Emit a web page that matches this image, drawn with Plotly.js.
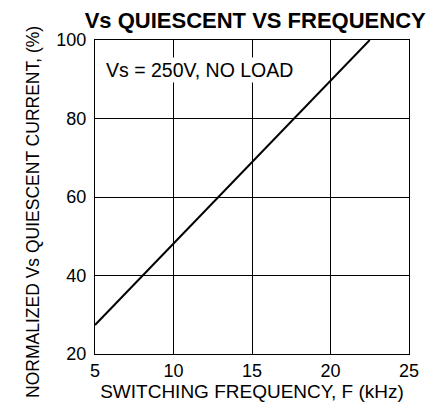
<!DOCTYPE html>
<html>
<head>
<meta charset="utf-8">
<script src="https://cdn.plot.ly/plotly-3.0.1.min.js"></script>
<style>html,body{margin:0;padding:0;background:#fff;}#chart{width:440px;height:405px;}</style>
</head>
<body>
<div id="chart"></div>
<script>
const frequency = [5, 10, 15, 20, 22.5];
const current = [27.4, 48.2, 69.0, 89.7, 100];
const xTicks = [5, 10, 15, 20, 25];
const yTicks = [20, 40, 60, 80, 100];

const FONT = 'Liberation Sans, Arial, sans-serif';

Plotly.newPlot('chart', [{
  x: frequency,
  y: current,
  mode: 'lines',
  line: {color: '#000', width: 2},
  hoverinfo: 'skip'
}], {
  width: 440, height: 405,
  margin: {l: 95, r: 31, t: 40, b: 51},
  paper_bgcolor: '#fff', plot_bgcolor: '#fff',
  showlegend: false,
  title: {text: '<b>Vs QUIESCENT VS FREQUENCY</b>', font: {family: FONT, size: 22, color: '#000'},
          x: 0.58, xanchor: 'center', y: 0.95, yanchor: 'middle'},
  xaxis: {
    range: [5, 25], tickvals: xTicks, ticktext: xTicks.map(String),
    showgrid: true, gridcolor: '#000', gridwidth: 1,
    showline: true, linecolor: '#000', linewidth: 1, mirror: true,
    zeroline: false, ticks: '', ticklabelstandoff: 0,
    tickfont: {family: FONT, size: 18, color: '#000'},
    title: {text: 'SWITCHING FREQUENCY, F (kHz)', font: {family: FONT, size: 19, color: '#000'}, standoff: 0}
  },
  yaxis: {
    range: [20, 100], tickvals: yTicks, ticktext: yTicks.map(String),
    showgrid: true, gridcolor: '#000', gridwidth: 1,
    showline: true, linecolor: '#000', linewidth: 1, mirror: true,
    zeroline: false, ticks: '', ticklabelstandoff: 4,
    tickfont: {family: FONT, size: 18, color: '#000'}
  },
  annotations: [{
    text: 'Vs = 250V, NO LOAD', xref: 'paper', yref: 'paper',
    x: 0.03, y: 0.904, xanchor: 'left', yanchor: 'middle', showarrow: false,
    font: {family: FONT, size: 19.5, color: '#000'}, bgcolor: '#fff'
  }, {
    text: 'NORMALIZED Vs QUIESCENT CURRENT, (%)', xref: 'paper', yref: 'paper',
    x: -0.196, y: 0.454, xanchor: 'center', yanchor: 'middle', showarrow: false,
    textangle: -90, font: {family: FONT, size: 17.5, color: '#000'}
  }]
}, {staticPlot: true});
</script>
</body>
</html>
